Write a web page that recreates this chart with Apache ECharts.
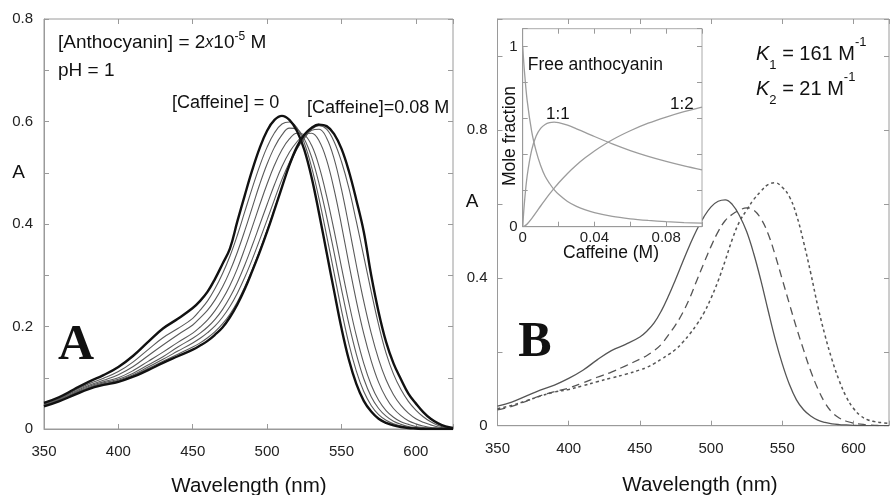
<!DOCTYPE html>
<html><head><meta charset="utf-8">
<style>html,body{margin:0;padding:0;background:#fff}#c{width:892px;height:495px}</style>
<script src="https://cdn.jsdelivr.net/npm/echarts@6.0.0/dist/echarts.min.js"></script>
</head><body><div id="c"></div>
<script>
// ---------- data ----------
const wavelengths = [350,360,370,380,390,400,410,420,430,440,450,
  455,460,465,470,475,480,485,490,495,500,505,510,515,520,525,530,535,540,545,550,
  555,560,565,570,575,580,585,590,595,600,605,610,615,620,625];

// Panel A: absorption spectra at increasing [Caffeine] (0 ... 0.08 M)
const specA0 = [0.051,0.062,0.077,0.092,0.105,0.121,0.143,0.170,0.196,0.215,0.236,
  0.250,0.268,0.293,0.322,0.352, 0.405,0.456,0.505,0.548,0.582, 0.603,0.611,0.603,0.582,0.545,
  0.490,0.420,0.345,0.270,0.197, 0.135,0.088,0.055,0.034,0.020, 0.012,0.007,0.004,0.002,0.001, 0,0,0,0,0];
const specA1 = [0.050,0.060,0.074,0.088,0.099,0.112,0.131,0.155,0.178,0.196,0.216,
  0.232,0.250,0.274,0.303,0.337, 0.378,0.424,0.470,0.513,0.550, 0.578,0.595,0.599,0.588,0.558,
  0.510,0.448,0.378,0.305,0.232, 0.166,0.113,0.073,0.046,0.028, 0.017,0.010,0.006,0.003,0.002, 0.001,0,0,0,0];
const specA2 = [0.049,0.059,0.072,0.085,0.095,0.106,0.122,0.143,0.164,0.184,0.203,
  0.217,0.232,0.252,0.277,0.308, 0.345,0.387,0.432,0.477,0.517, 0.550,0.574,0.587,0.585,0.566,
  0.530,0.478,0.415,0.345,0.273, 0.205,0.146,0.098,0.063,0.040, 0.025,0.015,0.009,0.005,0.003, 0.002,0.001,0,0,0];
const specA3 = [0.048,0.058,0.070,0.083,0.092,0.100,0.114,0.132,0.150,0.169,0.187,
  0.199,0.213,0.231,0.253,0.280, 0.313,0.352,0.394,0.437,0.478, 0.515,0.545,0.566,0.577,0.574,
  0.553,0.512,0.455,0.388,0.316, 0.246,0.182,0.128,0.086,0.056, 0.036,0.023,0.014,0.009,0.005, 0.003,0.002,0.001,0,0];
const specA4 = [0.047,0.057,0.069,0.081,0.090,0.097,0.109,0.125,0.141,0.160,0.177,
  0.187,0.199,0.214,0.233,0.257, 0.286,0.320,0.358,0.398,0.438, 0.477,0.512,0.540,0.560,0.574,
  0.577,0.562,0.525,0.468,0.398, 0.322,0.250,0.186,0.133,0.091, 0.061,0.040,0.026,0.016,0.010, 0.006,0.003,0.002,0.001,0];
const specA5 = [0.046,0.056,0.068,0.080,0.088,0.095,0.106,0.121,0.136,0.152,0.168,
  0.177,0.188,0.201,0.218,0.239, 0.265,0.296,0.331,0.369,0.408, 0.448,0.487,0.520,0.547,0.567,
  0.583,0.585,0.568,0.528,0.468, 0.396,0.320,0.249,0.187,0.136, 0.096,0.067,0.046,0.031,0.020, 0.013,0.008,0.004,0.002,0.001];
const specA6 = [0.045,0.055,0.067,0.079,0.087,0.093,0.104,0.118,0.132,0.146,0.160,
  0.168,0.178,0.190,0.205,0.224, 0.248,0.277,0.311,0.348,0.388, 0.430,0.473,0.514,0.546,0.569,
  0.585,0.592,0.585,0.561,0.522, 0.470,0.405,0.337,0.268,0.203, 0.148,0.107,0.077,0.054,0.037, 0.024,0.014,0.007,0.003,0.001];
const specA7 = [0.044,0.054,0.066,0.078,0.086,0.092,0.102,0.115,0.129,0.142,0.155,
  0.163,0.172,0.184,0.198,0.218, 0.243,0.273,0.308,0.345,0.385, 0.428,0.472,0.515,0.550,0.574,
  0.588,0.594,0.591,0.576,0.547, 0.503,0.447,0.385,0.300,0.228, 0.170,0.128,0.097,0.069,0.050, 0.033,0.020,0.011,0.005,0.002];

// Panel B: free anthocyanin (solid), 1:1 complex (dashed), 1:2 complex (dotted)
const specFree = [0.053,0.064,0.080,0.096,0.110,0.128,0.150,0.178,0.203,0.220,0.240,
  0.256,0.278,0.310,0.350,0.395, 0.442,0.488,0.530,0.565,0.592, 0.607,0.611,0.598,0.568,0.525,
  0.465,0.393,0.313,0.235,0.168, 0.112,0.070,0.043,0.026,0.015, 0.009,0.005,0.003,0.002,0.001, 0,0,0,0,0];
const spec11 = [0.043,0.052,0.066,0.081,0.092,0.102,0.116,0.131,0.145,0.162,0.180,
  0.190,0.203,0.220,0.245,0.272, 0.305,0.345,0.393,0.440,0.485, 0.525,0.555,0.572,0.583,0.589,
  0.583,0.560,0.520,0.462,0.396, 0.330,0.265,0.205,0.148,0.100, 0.062,0.036,0.021,0.012,0.007, 0.004,0.002,0.001,0,0];
const spec12 = [0.046,0.055,0.067,0.080,0.091,0.098,0.108,0.119,0.129,0.139,0.151,
  0.158,0.168,0.180,0.192,0.206, 0.225,0.248,0.274,0.305,0.345, 0.392,0.447,0.505,0.552,0.583,
  0.612,0.634,0.652,0.657,0.645, 0.620,0.570,0.497,0.413,0.323, 0.245,0.178,0.122,0.078,0.047, 0.027,0.016,0.011,0.008,0.006];

// Inset: mole fractions vs [Caffeine] (M)
const caffeine = [0,0.001,0.0025,0.005,0.0075,0.01,0.0125,0.015,0.0175,0.02,0.025,0.03,0.035,0.04,0.05,0.06,0.07,0.08,0.09,0.1];
const fracFree = [1,0.86,0.70,0.53,0.42,0.34,0.28,0.24,0.206,0.18,0.14,0.113,0.093,0.078,0.057,0.044,0.035,0.028,0.023,0.02];
const frac11   = [0,0.138,0.283,0.426,0.504,0.546,0.568,0.578,0.581,0.578,0.564,0.544,0.523,0.501,0.46,0.423,0.391,0.363,0.338,0.316];
const frac12   = [0,0.003,0.015,0.045,0.079,0.115,0.149,0.182,0.213,0.243,0.296,0.343,0.384,0.421,0.483,0.533,0.575,0.609,0.639,0.664];

// tick labels
const wlTickLabels = [350,400,450,500,550,600];
const aTickLabels = ['0','0.2','0.4','0.6','0.8'];
const bTickLabels = ['0','0.4','0.8'];
const insetXLabels = ['0','0.04','0.08'];
const insetYLabels = ['0','1'];

// ---------- chart ----------
const SANS = '"Liberation Sans", Arial, Helvetica, sans-serif';
const SERIF = '"Liberation Serif", "Times New Roman", serif';
const AX = '#9a9a9a';
function pairs(xs, ys){ return xs.map((x,i)=>[x, ys[i]]); }
function fmtNum(v){ return String(+v.toFixed(4)); }

function xAxis(grid, pos, min, max, interval, labels, margin){
  return {
    type:'value', gridIndex:grid, position:pos, min, max, interval,
    axisLine:{show:pos==='bottom', onZero:false, lineStyle:{color:AX, width:1}},
    axisTick:{show:true, inside:true, length:5, lineStyle:{color:AX}},
    splitLine:{show:false},
    axisLabel: labels ? {show:true, margin, fontSize:15, color:'#222', fontFamily:SANS,
      formatter:(v)=> labels.indexOf(fmtNum(v))>=0 ? fmtNum(v) : ''} : {show:false}
  };
}
function yAxis(grid, pos, min, max, interval, labels, margin){
  return {
    type:'value', gridIndex:grid, position:pos, min, max, interval,
    axisLine:{show:pos==='left', onZero:false, lineStyle:{color:AX, width:1}},
    axisTick:{show:true, inside:true, length:5, lineStyle:{color:AX}},
    splitLine:{show:false},
    axisLabel: labels ? {show:true, margin, fontSize:15, color:'#222', fontFamily:SANS,
      formatter:(v)=> labels.indexOf(fmtNum(v))>=0 ? fmtNum(v) : ''} : {show:false}
  };
}
const wlLabelStr = wlTickLabels.map(String);

const seriesA = [specA0,specA1,specA2,specA3,specA4,specA5,specA6,specA7].map((arr,i)=>{
  const thick = (i===0 || i===7);
  return {type:'line', xAxisIndex:0, yAxisIndex:0, data:pairs(wavelengths, arr), smooth:0.4,
    symbol:'none', z: thick?4:3,
    lineStyle:{color: thick?'#111':'#5a5a5a', width: thick?2.4:1.1}};
});
const seriesB = [
  {data:specFree, type:'solid', w:1.3},
  {data:spec11, type:[8,5], w:1.3},
  {data:spec12, type:[3,3], w:1.5}
].map(s=>({type:'line', xAxisIndex:2, yAxisIndex:2, data:pairs(wavelengths, s.data), smooth:0.4,
  symbol:'none', lineStyle:{color:'#555', width:s.w, type:s.type}}));
const seriesInset = [fracFree, frac11, frac12].map(arr=>({
  type:'line', xAxisIndex:4, yAxisIndex:4, data:pairs(caffeine, arr), smooth:0.3, symbol:'none', z:6,
  lineStyle:{color:'#9c9c9c', width:1.3}}));

function txt(text, x, y, size, opts){
  opts = opts || {};
  return {type:'text', x, y, z:100, rotation: opts.rotation||0, style:Object.assign({
    text, fill:'#111', font: (opts.weight||'normal')+' '+size+'px '+(opts.family||SANS),
    align: opts.align||'left', verticalAlign:'middle',
    textAlign: opts.align||'left', textVerticalAlign:'middle'
  }, opts.rich?{rich:opts.rich}:{})};
}

const option = {
  animation:false,
  backgroundColor:'#fff',
  grid:[
    {left:44, top:19, width:409, height:410, show:true, borderColor:AX, borderWidth:1, backgroundColor:'transparent'},
    {left:497.5, top:19, width:405, height:406.7, show:true, borderColor:AX, borderWidth:1, backgroundColor:'transparent'},
    {left:522.7, top:28.7, width:179.3, height:198, show:true, borderColor:'#aaa', borderWidth:1, backgroundColor:'#fff', z:5}
  ],
  xAxis:[
    xAxis(0,'bottom',350,625,50,wlLabelStr,15),
    xAxis(0,'top',350,625,50,null),
    xAxis(1,'bottom',350,625,50,wlLabelStr,16),
    xAxis(1,'top',350,625,50,null),
    Object.assign(xAxis(2,'bottom',0,0.1,0.02,insetXLabels,4),{z:6}),
    Object.assign(xAxis(2,'top',0,0.1,0.02,null),{z:6})
  ],
  yAxis:[
    yAxis(0,'left',0,0.8,0.1,aTickLabels,11),
    yAxis(0,'right',0,0.8,0.1,null),
    yAxis(1,'left',0,1.1,0.2,bTickLabels,10),
    yAxis(1,'right',0,1.1,0.2,null),
    Object.assign(yAxis(2,'left',0,1.1,0.2,insetYLabels,5),{z:6}),
    Object.assign(yAxis(2,'right',0,1.1,0.2,null),{z:6})
  ],
  series: seriesA.concat(seriesB, seriesInset),
  graphic:{elements:[
    txt('{t|[Anthocyanin] = 2}{x|x}{t|10}{s|-5}{t| M}', 58, 42.5, 19, {rich:{
      t:{fontSize:19, fontFamily:SANS, lineHeight:24, fill:'#111'},
      x:{fontSize:16, fontFamily:SANS, fontStyle:'italic', lineHeight:24, fill:'#111'},
      s:{fontSize:12, fontFamily:SANS, lineHeight:12, verticalAlign:'top', fill:'#111'}}}),
    txt('pH = 1', 58, 71, 19),
    txt('[Caffeine] = 0', 172, 103.3, 18),
    txt('[Caffeine]=0.08 M', 307, 108.3, 18),
    txt('A', 18.5, 173, 19, {align:'center'}),
    txt('A', 76, 346.5, 50, {align:'center', weight:'bold', family:SERIF}),
    txt('Wavelength (nm)', 249, 486.7, 20.5, {align:'center'}),
    txt('A', 472, 201.5, 19, {align:'center'}),
    txt('B', 535, 342.7, 50, {align:'center', weight:'bold', family:SERIF}),
    txt('Wavelength (nm)', 700, 485, 20.5, {align:'center'}),
    txt('{k|K}{b|1}{t| = 161 M}{p|-1}', 756, 54, 20, {rich:{
      k:{fontSize:20, fontFamily:SANS, fontStyle:'italic', lineHeight:36, fill:'#111'},
      b:{fontSize:13, fontFamily:SANS, lineHeight:12, verticalAlign:'bottom', fill:'#111'},
      t:{fontSize:20, fontFamily:SANS, lineHeight:36, fill:'#111'},
      p:{fontSize:13, fontFamily:SANS, lineHeight:24, verticalAlign:'top', fill:'#111'}}}),
    txt('{k|K}{b|2}{t| = 21 M}{p|-1}', 756, 89, 20, {rich:{
      k:{fontSize:20, fontFamily:SANS, fontStyle:'italic', lineHeight:36, fill:'#111'},
      b:{fontSize:13, fontFamily:SANS, lineHeight:12, verticalAlign:'bottom', fill:'#111'},
      t:{fontSize:20, fontFamily:SANS, lineHeight:36, fill:'#111'},
      p:{fontSize:13, fontFamily:SANS, lineHeight:24, verticalAlign:'top', fill:'#111'}}}),
    txt('Free anthocyanin', 527.7, 65, 17.5),
    txt('1:1', 546, 114, 17),
    txt('1:2', 670, 104, 17),
    txt('Mole fraction', 510, 136, 17.5, {align:'center', rotation:Math.PI/2}),
    txt('Caffeine (M)', 611, 253, 17.5, {align:'center'})
  ]}
};
const chart = echarts.init(document.getElementById('c'), null, {renderer:'canvas'});
chart.setOption(option);
</script>
</body></html>
